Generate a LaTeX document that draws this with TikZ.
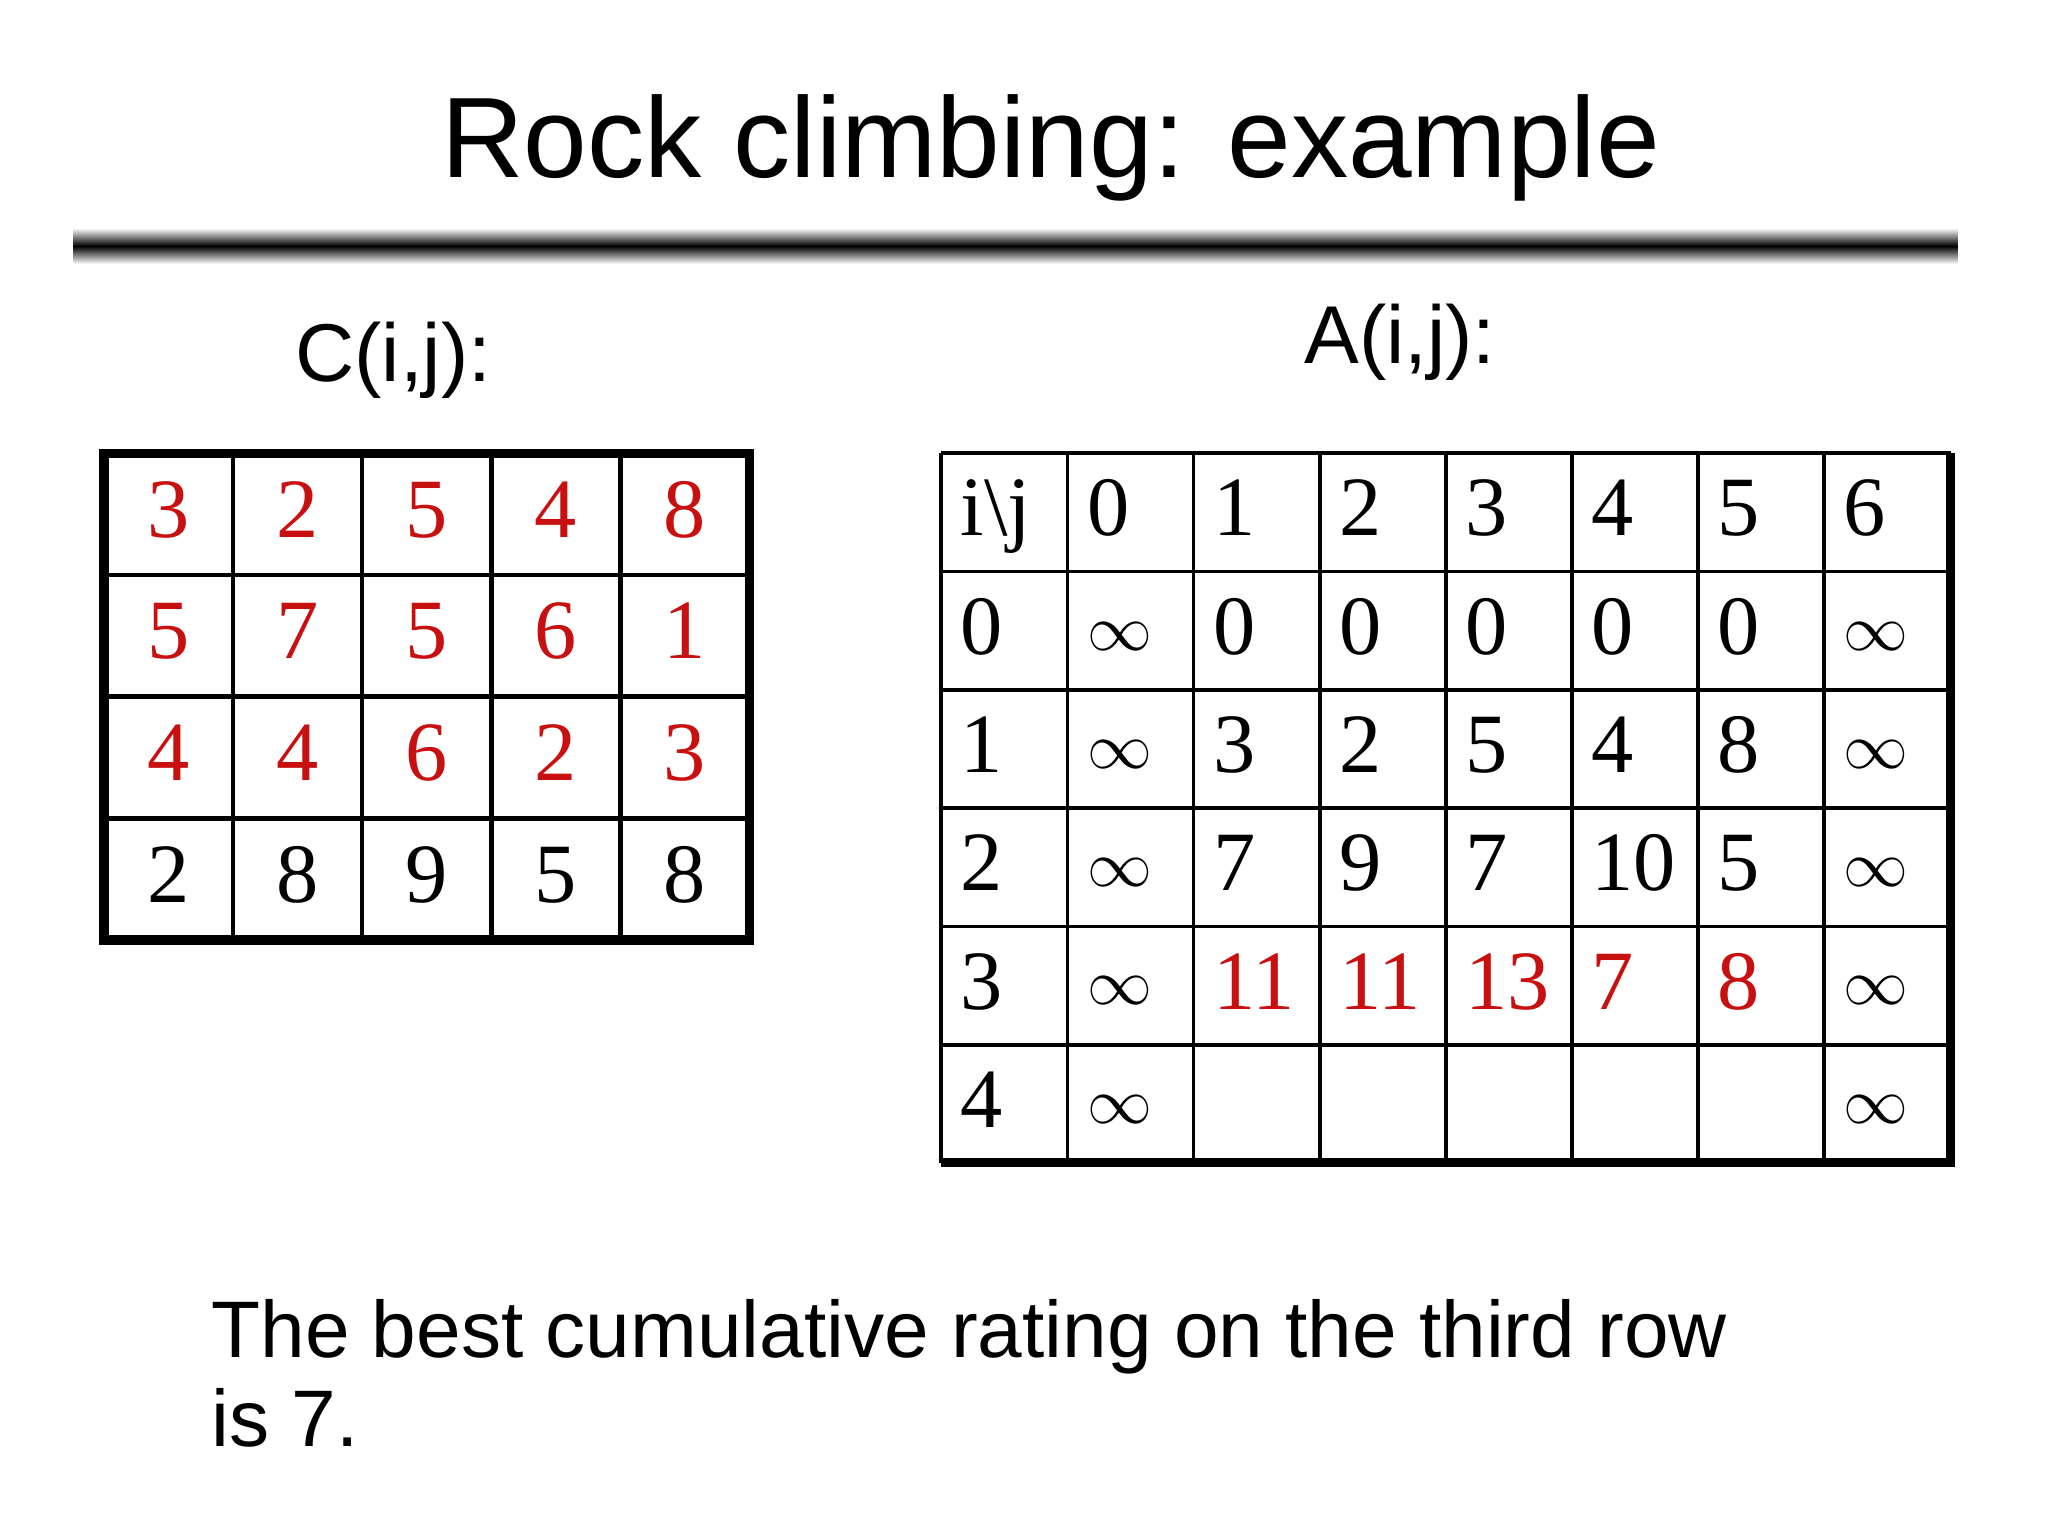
\documentclass[tikz,border=0pt]{standalone}
\usepackage{fontspec}
\setmainfont{Liberation Serif}
\setsansfont{Liberation Sans}
\definecolor{myred}{RGB}{200,16,16}
\newcommand{\myinf}{\raisebox{0.05em}{\scalebox{0.8}{$\infty$}}}
\begin{document}
\begin{tikzpicture}[x=0.01cm,y=-0.01cm,
  cell/.style={font=\fontsize{18}{20}\selectfont,inner sep=0pt,anchor=base},
  acell/.style={font=\fontsize{18}{20}\selectfont,inner sep=0pt,anchor=base west},
  lab/.style={font=\sffamily\fontsize{17.5}{22}\selectfont,inner sep=0pt,anchor=base}]
\useasboundingbox (0,0) rectangle (1536,1152);
\node[font=\sffamily\fontsize{24.4}{30}\selectfont,inner sep=0pt,anchor=base] (title) at (788,133) {Rock climbing: example};
\shade[top color=white,bottom color=white,middle color=black] (55,171) rectangle (1468,198);
\node[lab] (cl) at (295,286) {C(i,j):};
\node[lab] (al) at (1050,273) {A(i,j):};
% C table
\foreach \i in {1,...,4}{\draw[line width=1pt] (78,{340+\i*91.25-91.25}) -- (562,{340+\i*91.25-91.25});}
\foreach \j in {1,...,4}{\draw[line width=1pt] ({78+\j*96.8},340) -- ({78+\j*96.8},705);}
\draw[line width=2pt] (78,340) rectangle (562,705);
\foreach \r/\row/\c in {0/{3,2,5,4,8}/myred,1/{5,7,5,6,1}/myred,2/{4,4,6,2,3}/myred,3/{2,8,9,5,8}/black}{
  \foreach \v [count=\k from 0] in \row {
    \node[cell,text=\c] (c\r\k) at ({78+96.8*\k+48.4},{340+91.25*\r+63}) {\v};}}
% A table
\foreach \i in {1,...,5}{\draw[line width=0.8pt] (706,{340+\i*88.7}) -- (1463,{340+\i*88.7});}
\foreach \j in {1,...,7}{\draw[line width=0.8pt] ({706+\j*94.6},340) -- ({706+\j*94.6},872);}
\draw[line width=0.8pt] (706,340) -- (1463,340);
\draw[line width=0.8pt] (706,340) -- (706,872);
\draw[line width=1.8pt] (1463,340) -- (1463,872) -- (706,872);
\foreach \r/\row/\c in {0/{i\textbackslash j,0,1,2,3,4,5,6}/black,
  1/{0,\myinf,0,0,0,0,0,\myinf}/black,
  2/{1,\myinf,3,2,5,4,8,\myinf}/black,
  3/{2,\myinf,7,9,7,10,5,\myinf}/black,
  4/{3,\myinf,,,,,,\myinf}/black,
  5/{4,\myinf,,,,,,\myinf}/black}{
  \foreach \v [count=\k from 0] in \row {
    \node[acell,text=\c] (a\r\k) at ({706+94.6*\k+14},{340+88.7*\r+62}) {\v};}}
\foreach \v [count=\k from 2] in {11,11,13,7,8}{
  \node[acell,text=myred] (r\k) at ({706+94.6*\k+14},{340+88.7*4+62}) {\v};}
\node[font=\sffamily\fontsize{17.1}{19}\selectfont,inner sep=0pt,anchor=base west] (b1) at (158,1018) {The best cumulative rating on the third row};
\node[font=\sffamily\fontsize{17.1}{19}\selectfont,inner sep=0pt,anchor=base west] (b2) at (158,1085) {is 7.};
\end{tikzpicture}
\end{document}
